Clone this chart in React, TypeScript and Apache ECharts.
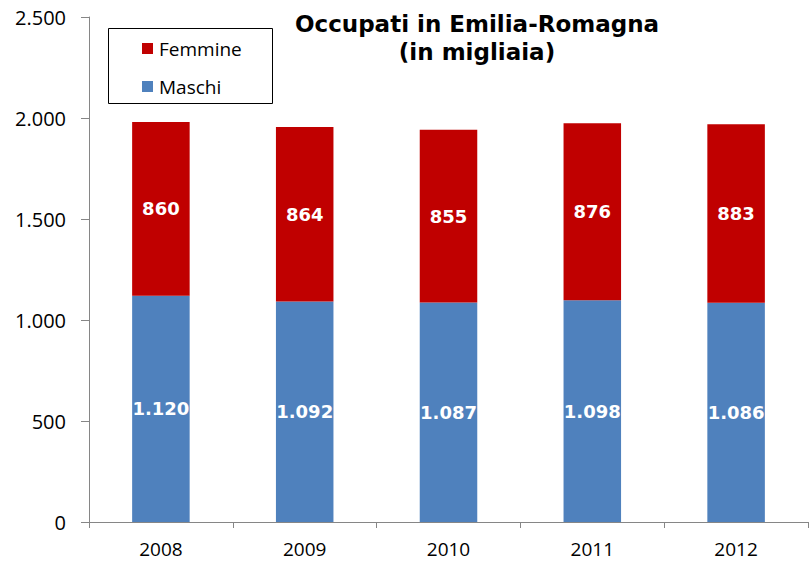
import React, { useEffect, useRef } from "react";
import * as echarts from "echarts";

const years = ["2008", "2009", "2010", "2011", "2012"];
const maschi = [1120, 1092, 1087, 1098, 1086];
const femmine = [860, 864, 855, 876, 883];
const titleText = "Occupati in Emilia-Romagna\n(in migliaia)";

const fmt = (v: number) => String(v).replace(/\B(?=(\d{3})+(?!\d))/g, ".");

export default function App() {
  const ref = useRef<HTMLDivElement>(null);
  useEffect(() => {
    const chart = echarts.init(ref.current!, null, { renderer: "svg" });
    const labelStyle = {
      show: true,
      position: "inside",
      color: "#fff",
      fontFamily: "DejaVu Sans",
      fontWeight: "bold",
      fontSize: 18,
      formatter: (p: any) => fmt(p.value),
    };
    chart.setOption({
      animation: false,
      backgroundColor: "#fff",
      title: {
        text: titleText,
        left: 472,
        top: 5,
        textAlign: "center",
        textStyle: {
          fontFamily: "DejaVu Sans",
          fontWeight: "bold",
          fontSize: 23,
          lineHeight: 28,
          color: "#000",
        },
      },
      graphic: [
        {
          type: "rect",
          shape: { x: 108.5, y: 28.5, width: 164, height: 75 },
          style: { fill: "#fff", stroke: "#000", lineWidth: 1 },
          z: 10,
        },
      ],
      legend: {
        data: ["Femmine", "Maschi"],
        orient: "vertical",
        left: 137,
        top: 34,
        itemWidth: 11,
        itemHeight: 11,
        itemGap: 19,
        icon: "rect",
        z: 20,
        textStyle: { fontFamily: "Open Sans", fontSize: 19, lineHeight: 19, color: "#000", padding: [0, 0, 0, 1] },
      },
      grid: { left: 89, right: 2, top: 17, bottom: 41 },
      xAxis: {
        type: "category",
        data: years,
        axisLine: { lineStyle: { color: "#868686" } },
        axisTick: { show: true, length: 6, lineStyle: { color: "#868686" } },
        axisLabel: { color: "#000", fontFamily: "Open Sans", fontSize: 19, lineHeight: 19, margin: 17 },
      },
      yAxis: {
        type: "value",
        min: 0,
        max: 2500,
        interval: 500,
        splitLine: { show: false },
        axisLine: { show: true, lineStyle: { color: "#868686" } },
        axisTick: { show: true, length: 8, lineStyle: { color: "#868686" } },
        axisLabel: {
          color: "#000",
          fontFamily: "Open Sans",
          fontSize: 20,
          margin: 23,
          formatter: (v: number) => fmt(v),
        },
      },
      series: [
        {
          name: "Maschi",
          type: "bar",
          stack: "tot",
          barWidth: "40%",
          data: maschi,
          itemStyle: { color: "#4F81BD" },
          label: labelStyle,
        },
        {
          name: "Femmine",
          type: "bar",
          stack: "tot",
          barWidth: "40%",
          data: femmine,
          itemStyle: { color: "#C00000" },
          label: labelStyle,
        },
      ],
    });
    return () => chart.dispose();
  }, []);
  return <div ref={ref} style={{ width: 810, height: 563, position: "absolute", left: 0, top: 0 }} />;
}
